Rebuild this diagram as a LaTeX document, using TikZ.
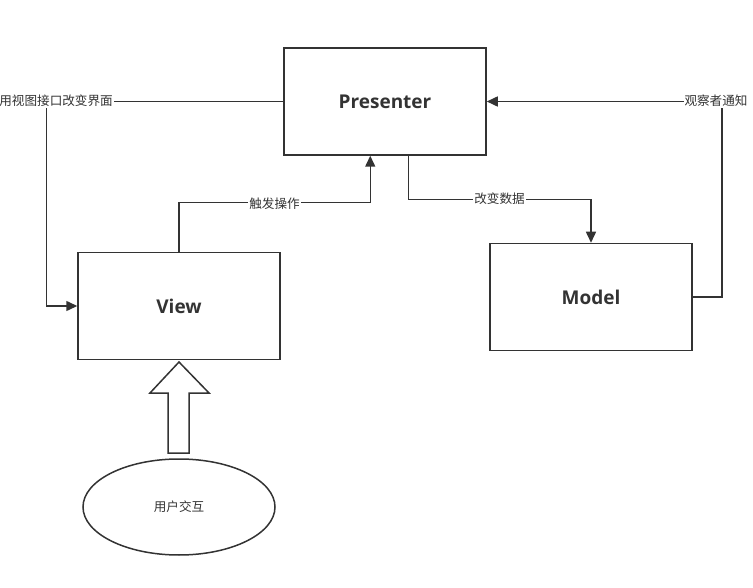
\documentclass[tikz,border=0pt]{standalone}
\usepackage{fontspec}
\setmainfont{Open Sans}
\newfontfamily\cjk{Noto Sans CJK SC}
\usetikzlibrary{shapes.geometric,arrows.meta}
\definecolor{ink}{HTML}{333333}
\tikzset{
  box/.style={draw=ink, line width=1.5pt, minimum width=202pt, minimum height=107pt, inner sep=0pt, text=ink, font=\fontsize{19}{21}\selectfont\bfseries},
  conn/.style={draw=ink, line width=1.5pt},
  arr/.style={conn, -{Triangle[length=11pt,width=10pt]}},
  lbl/.style={fill=white, inner sep=1pt, text=ink, font=\cjk\fontsize{12.6}{14}\selectfont},
}
\begin{document}
\begin{tikzpicture}[x=1pt,y=-1pt]
\useasboundingbox (0,0) rectangle (753,588);
\node[box] (P) at (385,101.5) {Presenter};
\node[box] (V) at (179,306) {View};
\node[box] (M) at (591,297) {Model};
\node[ellipse, draw=ink, line width=1.5pt, minimum width=192pt, minimum height=96pt, inner sep=0pt, text=ink, font=\cjk\fontsize{12.6}{14}\selectfont] (E) at (179,507) {用户交互};
% block arrow
\draw[ink, line width=1.5pt, line join=miter] (179,362) -- (209,393) -- (189,393) -- (189,453) -- (168,453) -- (168,393) -- (150,393) -- cycle;
% connectors
\draw[arr] (P.west) -- ++(-237,0) |- (V.west);
\draw[arr] (V.north) -- ++(0,-49) -| ([xshift=87pt]P.south west);
\draw[arr] ([xshift=125pt]P.south west) -- ++(0,44) -| (M.north);
\draw[arr] (M.east) -- ++(29,0) |- (P.east);
% labels
\node[lbl, anchor=east] (l1) at (114,101) {用视图接口改变界面};
\node[lbl] (l2) at (274.5,204) {触发操作};
\node[lbl] (l3) at (499.5,199) {改变数据};
\node[lbl] (l4) at (716,101) {观察者通知};
\end{tikzpicture}
\end{document}
